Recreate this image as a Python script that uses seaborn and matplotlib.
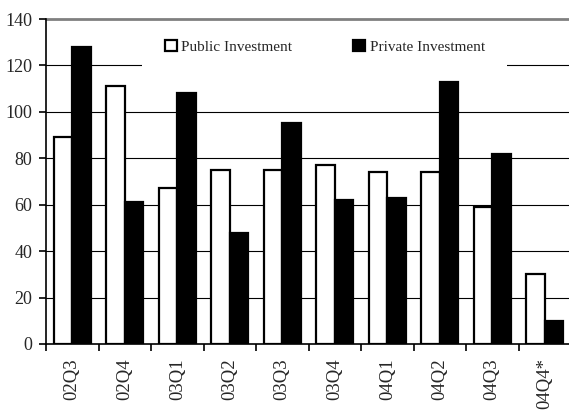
import matplotlib
matplotlib.use("Agg")
from matplotlib import pyplot as plt
from matplotlib.patches import Rectangle
import seaborn as sns
import pandas as pd
import numpy as np

# quarterly values
quarters = ['02Q3', '02Q4', '03Q1', '03Q2', '03Q3', '03Q4', '04Q1', '04Q2', '04Q3', '04Q4*']
public_inv = [89, 111, 67, 75, 75, 77, 74, 74, 59, 30]
private_inv = [128, 61, 108, 48, 95, 62, 63, 113, 82, 10]
series_names = ['Public Investment', 'Private Investment']
y_ticks = [0, 20, 40, 60, 80, 100, 120, 140]


def main():
    sns.set_style('white')
    plt.rcParams['font.family'] = ['Liberation Serif', 'DejaVu Serif']

    df = pd.DataFrame({
        'quarter': quarters * 2,
        'value': public_inv + private_inv,
        'series': [series_names[0]] * len(quarters) + [series_names[1]] * len(quarters),
    })

    fig = plt.figure(figsize=(5.69, 4.12), dpi=100)
    ax = fig.add_axes([46 / 569, 1 - 344 / 412, 525 / 569, 325 / 412])

    sns.barplot(data=df, x='quarter', y='value', hue='series', palette=['white', 'black'],
                edgecolor='black', linewidth=1.6, width=0.7, ax=ax, legend=True)

    ax.set_xlim(-0.5, len(quarters) - 0.5)
    ax.set_ylim(0, 140)
    ax.set_yticks(y_ticks)
    ax.set_xlabel('')
    ax.set_ylabel('')

    # gridlines
    ax.set_axisbelow(True)
    for v in y_ticks[1:-1]:
        ax.axhline(v, color='black', linewidth=0.8, zorder=0.5)
    ax.axhline(140, color='#808080', linewidth=2.0, zorder=0.5, clip_on=False)

    # spines
    for side in ['top', 'right']:
        ax.spines[side].set_visible(False)
    ax.spines['left'].set_color('black')
    ax.spines['left'].set_linewidth(1.2)
    ax.spines['bottom'].set_color('black')
    ax.spines['bottom'].set_linewidth(1.2)

    # ticks: labels at centers, marks at category boundaries
    ax.set_xticks(np.arange(len(quarters)))
    ax.set_xticklabels(quarters, rotation=90, fontsize=13.5)
    ax.tick_params(axis='x', which='major', length=0, pad=10)
    ax.set_xticks(np.arange(len(quarters) + 1) - 0.5, minor=True)
    ax.tick_params(axis='x', which='minor', direction='out', length=5, width=1.2, color='black', bottom=True)
    ax.tick_params(axis='y', direction='out', length=5, width=1.2, color='black', labelsize=13, left=True, pad=5)

    # white band behind the legend
    ax.add_patch(Rectangle(((142 - 46) / 525, (344 - 78) / 325), 365 / 525, 46 / 325,
                           transform=ax.transAxes, facecolor='white', edgecolor='none', zorder=0.8))

    handles, labels = ax.get_legend_handles_labels()
    ax.legend(handles, labels, ncol=2, loc='center', bbox_to_anchor=((325 - 46) / 525, (344 - 47) / 325),
              frameon=False, fontsize=11, handlelength=0.75, handleheight=0.75, handletextpad=0.3,
              columnspacing=4.0)

    fig.savefig('out.png', dpi=100)
    plt.close(fig)


if __name__ == "__main__":
    main()
